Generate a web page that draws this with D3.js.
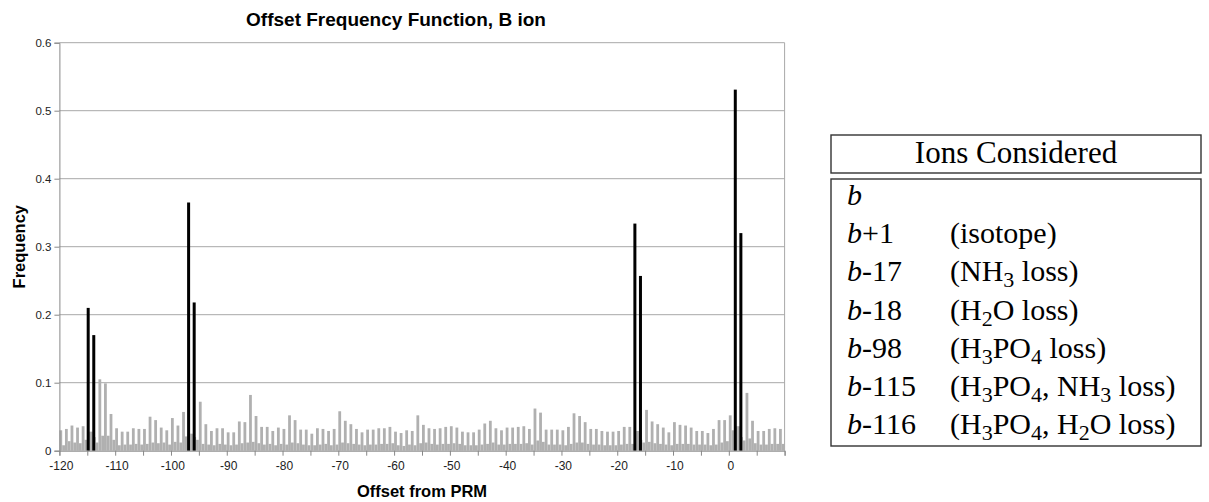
<!DOCTYPE html>
<html><head><meta charset="utf-8">
<script src="https://cdn.jsdelivr.net/npm/d3@7"></script>
<style>body{margin:0;background:#fff} svg{display:block}</style>
</head><body>
<svg id="chart" width="1209" height="502"></svg>
<script>
// ---- data ----
const offsets = d3.range(-120, 10); // categories: offset from PRM, -120 .. 9
// frequency in the integer bin of each offset (light grey bars)
const grayMain = [
  0.030,0.032,0.037,0.034,0.036,0.028,0.020,0.105,0.099,0.054, // -120..-111
  0.033,0.028,0.028,0.033,0.032,0.032,0.050,0.045,0.034,0.030, // -110..-101
  0.048,0.037,0.057,0.025,0.020,0.072,0.039,0.029,0.033,0.033, // -100..-91
  0.027,0.027,0.043,0.042,0.082,0.051,0.035,0.035,0.029,0.034, // -90..-81
  0.032,0.052,0.045,0.031,0.031,0.025,0.033,0.032,0.029,0.032, // -80..-71
  0.058,0.044,0.039,0.032,0.027,0.031,0.031,0.033,0.033,0.035, // -70..-61
  0.028,0.026,0.030,0.029,0.052,0.038,0.033,0.032,0.033,0.035, // -60..-51
  0.036,0.034,0.028,0.027,0.027,0.031,0.040,0.044,0.033,0.030, // -50..-41
  0.034,0.034,0.035,0.036,0.032,0.062,0.056,0.031,0.031,0.031, // -40..-31
  0.030,0.035,0.055,0.051,0.042,0.032,0.032,0.029,0.028,0.028, // -30..-21
  0.029,0.035,0.035,0.029,0.016,0.060,0.043,0.039,0.034,0.027, // -20..-11
  0.042,0.038,0.037,0.034,0.029,0.029,0.026,0.032,0.045,0.045, // -10..-1
  0.052,0.036,0.020,0.085,0.044,0.029,0.029,0.032,0.033,0.032  // 0..9
];
// frequency in the half-unit bin following each offset (low grey fill)
const grayHalf = [
  0.008,0.014,0.012,0.011,0.016,0.028,0.012,0.022,0.022,0.016,
  0.008,0.009,0.009,0.010,0.009,0.010,0.012,0.011,0.012,0.009,
  0.013,0.012,0.021,0.025,0.016,0.010,0.009,0.008,0.010,0.009,
  0.008,0.009,0.011,0.012,0.013,0.011,0.009,0.010,0.008,0.010,
  0.009,0.012,0.011,0.009,0.008,0.008,0.009,0.010,0.008,0.009,
  0.012,0.011,0.010,0.009,0.008,0.009,0.009,0.010,0.010,0.011,
  0.008,0.007,0.009,0.008,0.011,0.012,0.010,0.009,0.010,0.010,
  0.011,0.010,0.008,0.008,0.008,0.009,0.010,0.012,0.009,0.009,
  0.010,0.010,0.010,0.011,0.009,0.015,0.013,0.009,0.009,0.009,
  0.008,0.010,0.012,0.012,0.010,0.009,0.009,0.008,0.008,0.008,
  0.009,0.010,0.010,0.029,0.012,0.013,0.011,0.010,0.009,0.008,
  0.010,0.010,0.010,0.009,0.009,0.009,0.008,0.009,0.012,0.014,
  0.030,0.036,0.015,0.018,0.011,0.009,0.009,0.010,0.010,0.010
];
const blackOffsets = [-115, -114, -97, -96, -17, -16, 1, 2];
const blackValues  = [0.210, 0.170, 0.365, 0.218, 0.334, 0.257, 0.531, 0.320];
const yTicks = [0, 0.1, 0.2, 0.3, 0.4, 0.5, 0.6];
const xTickMarks = [-120,-115,-110,-105,-100,-95,-90,-85,-80,-75,-70,-65,-60,-55,-50,-45,-40,-35,-30,-25,-20,-15,-10,-5,0,5,10];
const xTickLabels = [-120,-110,-100,-90,-80,-70,-60,-50,-40,-30,-20,-10,0];
const legendTitle = "Ions Considered";
const legendIons = ["", "+1", "-17", "-18", "-98", "-115", "-116"];
const legendNotes = [
  [],
  [["(isotope)",0]],
  [["(NH",0],["3",1],[" loss)",0]],
  [["(H",0],["2",1],["O loss)",0]],
  [["(H",0],["3",1],["PO",0],["4",1],[" loss)",0]],
  [["(H",0],["3",1],["PO",0],["4",1],[", NH",0],["3",1],[" loss)",0]],
  [["(H",0],["3",1],["PO",0],["4",1],[", H",0],["2",1],["O loss)",0]]
];

// ---- layout ----
const svg = d3.select("#chart");
const L = 59.4, R = 784.6, T = 42.7, B = 450.7;
const x = d3.scaleLinear().domain([-120, 10]).range([L, R]);
const y = d3.scaleLinear().domain([0, 0.6]).range([B, T]);
const sans = "'Liberation Sans', Arial, sans-serif";
const serif = "'Liberation Serif', 'Times New Roman', serif";

// gridlines
svg.append("g").selectAll("line").data(yTicks.filter(d => d > 0)).join("line")
  .attr("x1", L).attr("x2", R).attr("y1", d => y(d)).attr("y2", d => y(d))
  .attr("stroke", "#a8a8a8").attr("stroke-width", 1);
// right border
svg.append("line").attr("x1", R).attr("x2", R).attr("y1", T).attr("y2", B)
  .attr("stroke", "#a8a8a8").attr("stroke-width", 1);

// grey bars
const hw = x(-119.5) - x(-120);
svg.append("g").selectAll("rect").data(offsets).join("rect")
  .attr("x", (d) => x(d)).attr("width", hw)
  .attr("y", (d, i) => y(grayMain[i])).attr("height", (d, i) => y(0) - y(grayMain[i]))
  .attr("fill", "#b0b0b0");
svg.append("g").selectAll("rect").data(offsets).join("rect")
  .attr("x", (d) => x(d + 0.5)).attr("width", hw)
  .attr("y", (d, i) => y(grayHalf[i])).attr("height", (d, i) => y(0) - y(grayHalf[i]))
  .attr("fill", "#b0b0b0");
// black bars
svg.append("g").selectAll("rect").data(blackOffsets).join("rect")
  .attr("x", d => x(d) - 0.6).attr("width", 3)
  .attr("y", (d, i) => y(blackValues[i])).attr("height", (d, i) => y(0) - y(blackValues[i]))
  .attr("fill", "#000");

// y axis
const yAx = svg.append("g").attr("transform", `translate(${L},0)`)
  .call(d3.axisLeft(y).tickValues(yTicks).tickSize(5).tickPadding(3).tickFormat(d => String(d)));
yAx.select(".domain").attr("stroke", "#888");
yAx.selectAll(".tick line").attr("stroke", "#888");
yAx.selectAll("text").attr("font-family", sans).attr("font-size", "11.5px").attr("fill", "#222");

// x axis
const xAx = svg.append("g").attr("transform", `translate(0,${B})`)
  .call(d3.axisBottom(x).tickValues(xTickMarks).tickSize(5).tickPadding(6)
    .tickFormat(d => xTickLabels.includes(d) ? String(d) : ""));
xAx.select(".domain").attr("stroke", "#888");
xAx.selectAll(".tick line").attr("stroke", "#888");
xAx.selectAll("text").attr("font-family", sans).attr("font-size", "12px").attr("fill", "#222")
  .attr("x", d => x(d + 0.25) - x(d));

// titles
svg.append("text").attr("x", 396).attr("y", 26).attr("text-anchor", "middle")
  .attr("font-family", sans).attr("font-weight", "bold").attr("font-size", "19px")
  .text("Offset Frequency Function, B ion");
svg.append("text").attr("x", (L + R) / 2).attr("y", 497).attr("text-anchor", "middle")
  .attr("font-family", sans).attr("font-weight", "bold").attr("font-size", "16.5px")
  .text("Offset from PRM");
svg.append("text").attr("transform", `translate(25,${(T + B) / 2}) rotate(-90)`)
  .attr("text-anchor", "middle")
  .attr("font-family", sans).attr("font-weight", "bold").attr("font-size", "16.5px")
  .text("Frequency");

// legend table
const lx = 831, lw = 370;
const lg = svg.append("g");
lg.append("rect").attr("x", lx).attr("y", 135).attr("width", lw).attr("height", 38)
  .attr("fill", "none").attr("stroke", "#333").attr("stroke-width", 1.4);
lg.append("text").attr("x", lx + lw / 2).attr("y", 163).attr("text-anchor", "middle")
  .attr("font-family", serif).attr("font-size", "31px").text(legendTitle);
lg.append("rect").attr("x", lx).attr("y", 179).attr("width", lw).attr("height", 267)
  .attr("fill", "none").attr("stroke", "#333").attr("stroke-width", 1.4);
legendIons.forEach((suf, i) => {
  const by = 205 + i * 38.2;
  const t = lg.append("text").attr("x", 847).attr("y", by)
    .attr("font-family", serif).attr("font-size", "30px");
  t.append("tspan").attr("font-style", "italic").text("b");
  if (suf) t.append("tspan").text(suf);
  const n = lg.append("text").attr("x", 950).attr("y", by)
    .attr("font-family", serif).attr("font-size", "30px");
  let prevSub = false;
  legendNotes[i].forEach(([s, sub]) => {
    const sp = n.append("tspan").text(s);
    if (sub) { sp.attr("font-size", "22px").attr("dy", 6); }
    else if (prevSub) { sp.attr("dy", -6); }
    prevSub = !!sub;
  });
});
</script>
</body></html>
